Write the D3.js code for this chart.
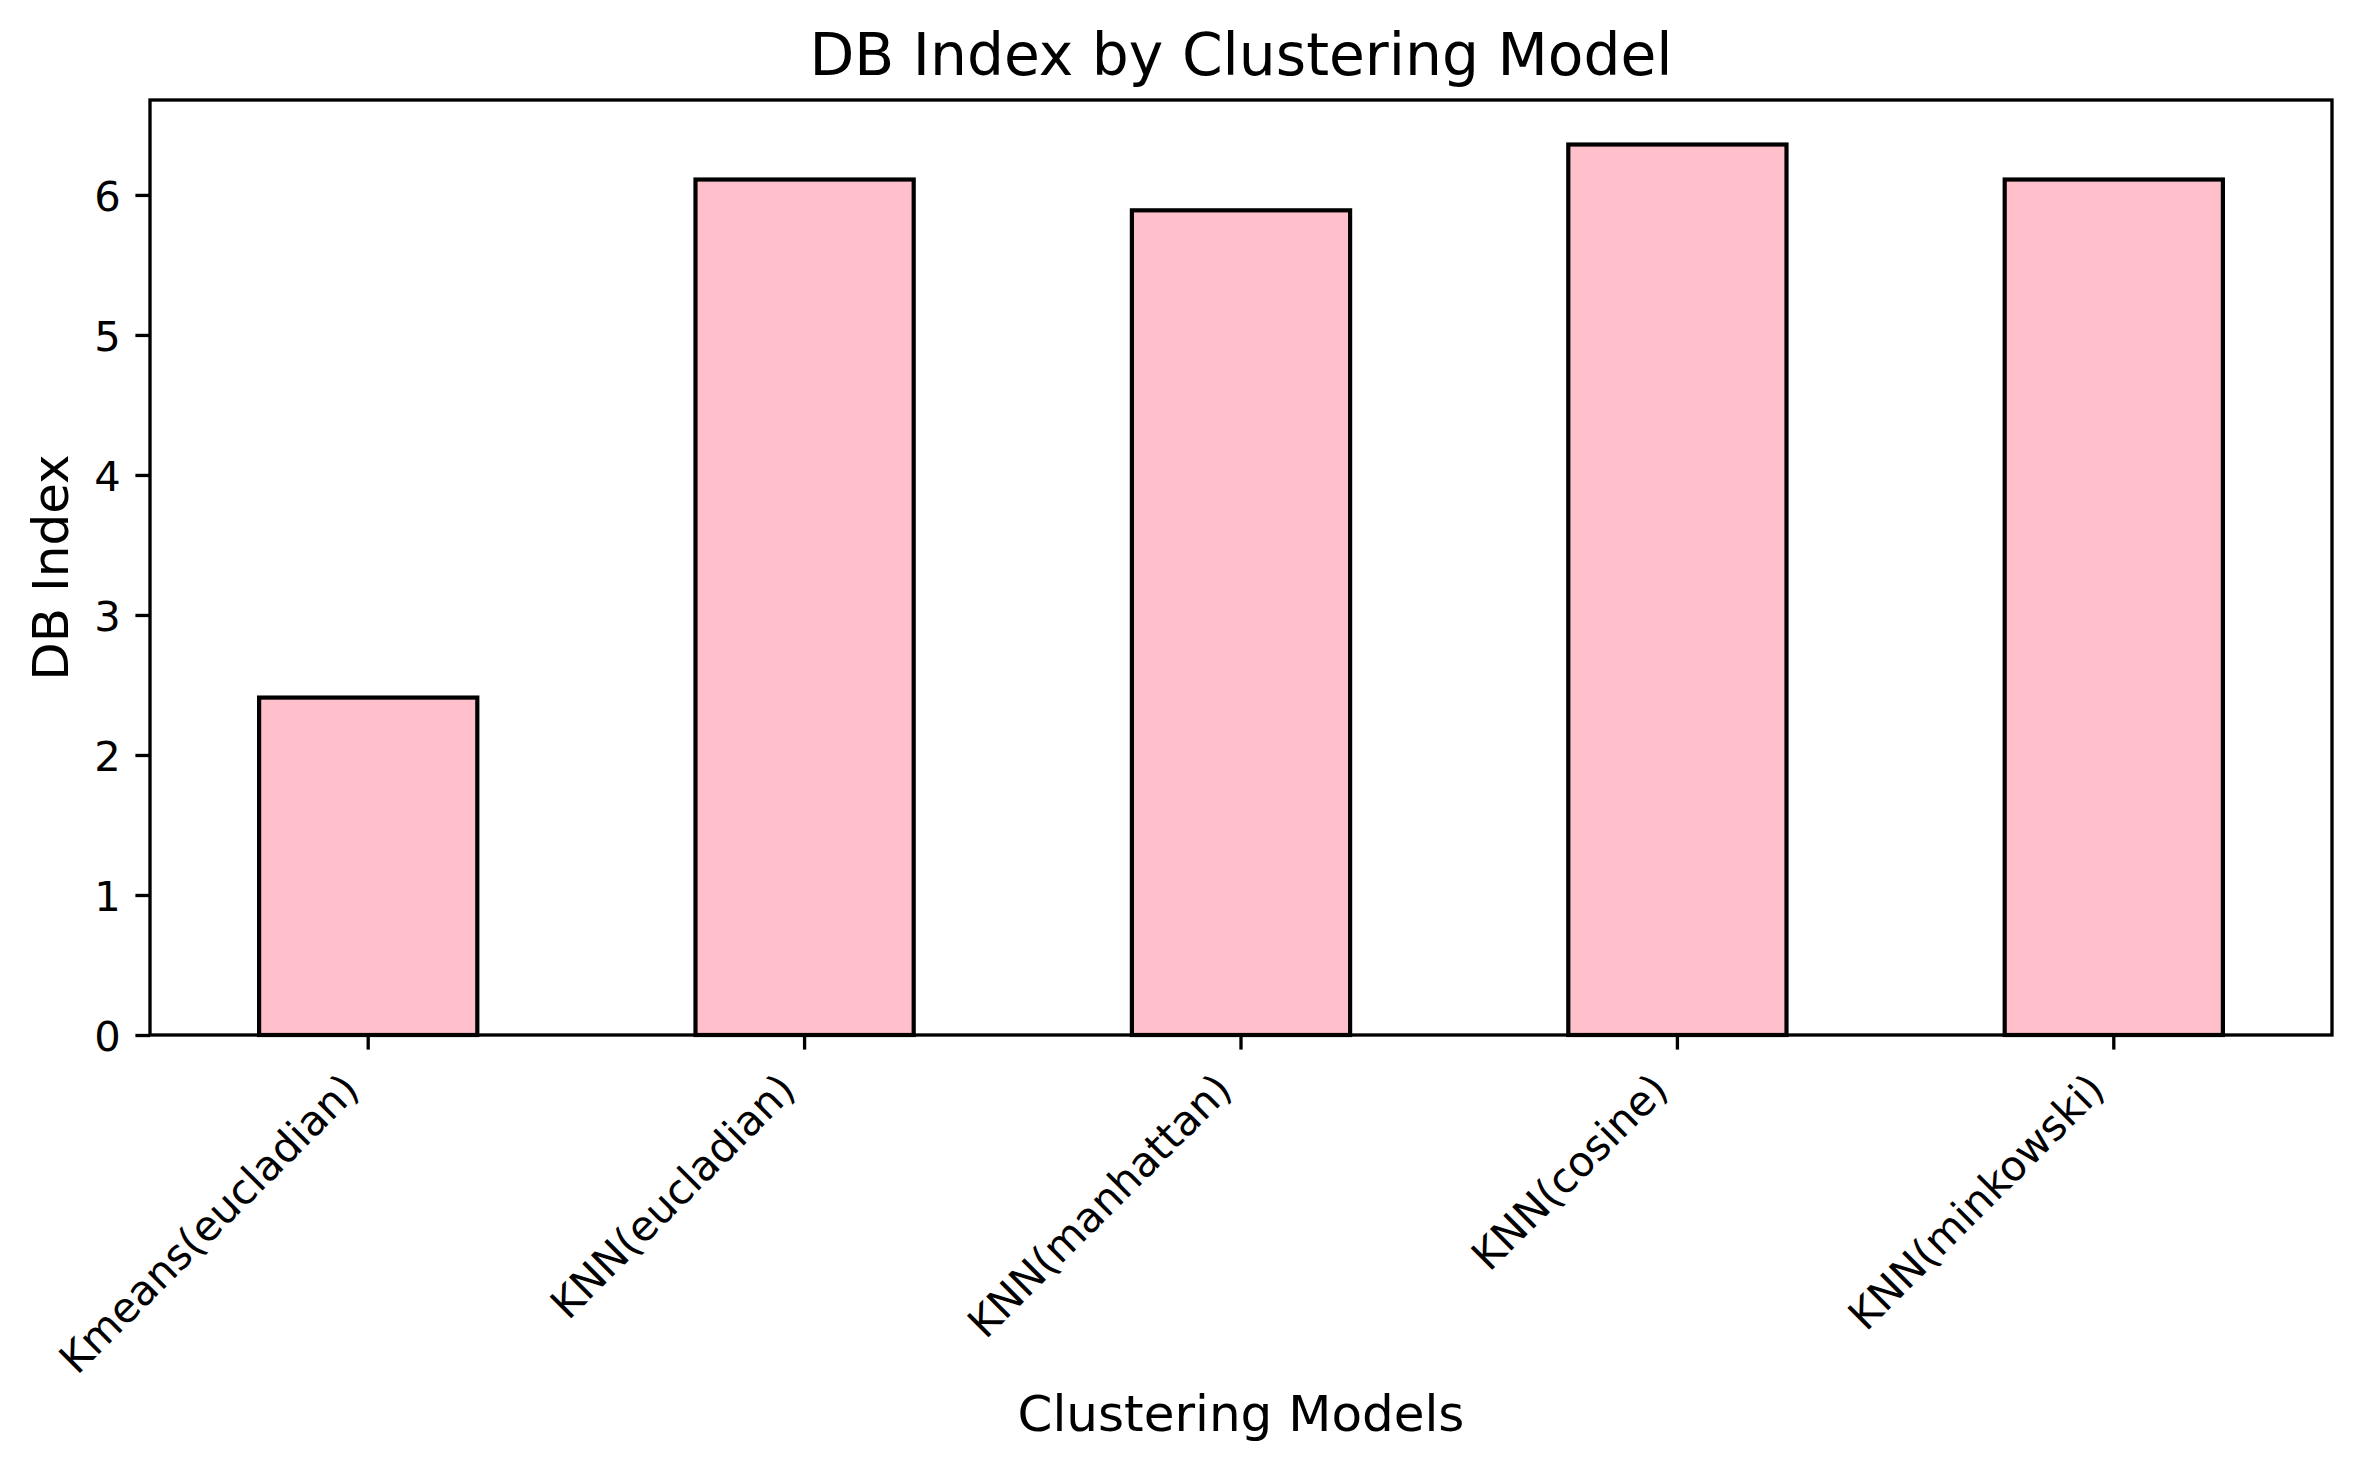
<!DOCTYPE html>
<html>
<head>
<meta charset="utf-8">
<script src="https://cdn.jsdelivr.net/npm/d3@7"></script>
<style>
  body { margin: 0; background: #fff; }
  svg { display: block; font-family: "DejaVu Sans", sans-serif; }
</style>
</head>
<body>
<svg id="chart" width="2362" height="1471"></svg>
<script>
// data
const models = ['Kmeans(eucladian)', 'KNN(eucladian)', 'KNN(manhattan)', 'KNN(cosine)', 'KNN(minkowski)'];
const dbIndex = [2.41, 6.11, 5.89, 6.36, 6.11];
const yTicks = [0, 1, 2, 3, 4, 5, 6];

const W = 2362, H = 1471;
const margin = { left: 150, right: W - 2332, top: 100, bottom: H - 1035 };
const iw = W - margin.left - margin.right;
const ih = H - margin.top - margin.bottom;

const tickLen = 14.6, tickPad = 14.6;

const svg = d3.select('#chart');
const g = svg.append('g').attr('transform', `translate(${margin.left},${margin.top})`);

const x = d3.scaleBand().domain(models).range([0, iw]).paddingInner(0.5).paddingOuter(0.25);
const y = d3.scaleLinear().domain([0, d3.max(dbIndex) * 1.05]).range([ih, 0]);

// bars
g.selectAll('rect.bar')
  .data(models)
  .join('rect')
  .attr('class', 'bar')
  .attr('x', d => x(d))
  .attr('width', x.bandwidth())
  .attr('y', (d, i) => y(dbIndex[i]))
  .attr('height', (d, i) => y(0) - y(dbIndex[i]))
  .attr('fill', '#ffc0cb')
  .attr('stroke', '#000')
  .attr('stroke-width', 4.2);

// y axis
const yAxis = g.append('g')
  .call(d3.axisLeft(y).tickValues(yTicks).tickFormat(d3.format('d')).tickSize(tickLen).tickPadding(tickPad));
yAxis.select('.domain').remove();
yAxis.selectAll('line').attr('stroke', '#000').attr('stroke-width', 3.33);
yAxis.selectAll('text')
  .attr('font-size', 41.7)
  .attr('fill', '#000')
  .attr('font-family', 'DejaVu Sans')
  .attr('dy', '0.38em');

// x axis
const xAxis = g.append('g')
  .attr('transform', `translate(0,${ih})`)
  .call(d3.axisBottom(x).tickSize(tickLen).tickFormat(''));
xAxis.select('.domain').remove();
xAxis.selectAll('line').attr('stroke', '#000').attr('stroke-width', 3.33);

// rotated tick labels, box top-right pinned under each tick like matplotlib ha='right'
const labelTop = margin.top + ih + tickLen + tickPad;
models.forEach(m => {
  const cx = margin.left + x(m) + x.bandwidth() / 2;
  const lg = svg.append('g');
  lg.append('text')
    .attr('transform', 'rotate(-45)')
    .attr('text-anchor', 'end')
    .attr('font-size', 41.7)
    .attr('fill', '#000')
    .text(m);
  const r = lg.node().getBoundingClientRect();
  const s = svg.node().getBoundingClientRect();
  const dx = cx - (r.right - s.left);
  const dy = labelTop - (r.top - s.top);
  lg.attr('transform', `translate(${dx},${dy})`);
});

// frame
g.append('rect')
  .attr('width', iw).attr('height', ih)
  .attr('fill', 'none').attr('stroke', '#000').attr('stroke-width', 3.33);

// title and axis labels
svg.append('text')
  .attr('x', margin.left + iw / 2).attr('y', 75)
  .attr('text-anchor', 'middle')
  .attr('font-size', 58.3)
  .text('DB Index by Clustering Model');

svg.append('text')
  .attr('x', margin.left + iw / 2).attr('y', 1431)
  .attr('text-anchor', 'middle')
  .attr('font-size', 50)
  .text('Clustering Models');

svg.append('text')
  .attr('transform', `translate(68,${margin.top + ih / 2}) rotate(-90)`)
  .attr('text-anchor', 'middle')
  .attr('font-size', 50)
  .text('DB Index');
</script>
</body>
</html>
